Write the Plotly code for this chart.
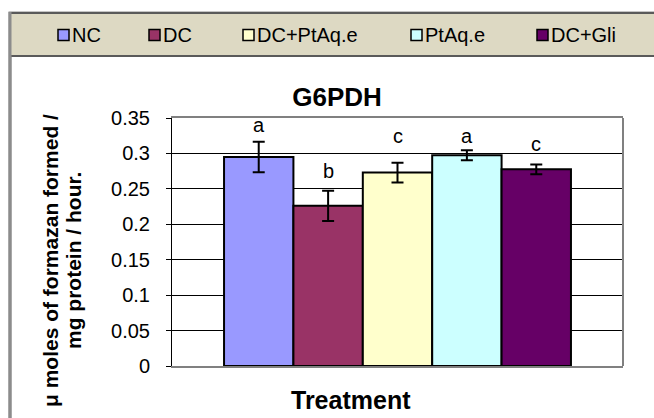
import plotly.graph_objects as go

# ---- data ----
groups = ["NC", "DC", "DC+PtAq.e", "PtAq.e", "DC+Gli"]
means = [0.295, 0.226, 0.273, 0.2975, 0.2775]
errors = [0.0215, 0.0215, 0.014, 0.007, 0.007]
sig_letters = ["a", "b", "c", "a", "c"]
y_tick_values = [0, 0.05, 0.1, 0.15, 0.2, 0.25, 0.3, 0.35]
y_tick_labels = ["0", "0.05", "0.1", "0.15", "0.2", "0.25", "0.3", "0.35"]
chart_title = "G6PDH"
x_title = "Treatment"
y_title_lines = ["\u03bc moles of formazan formed /", "mg protein / hour."]

# ---- styles / layout ----
colors = ["#9999FF", "#993366", "#FFFFCC", "#CCFFFF", "#660066"]
letter_shift_px = [17, 20, 27, 14, 20]
legend_sq_px = [58, 149, 243, 411, 537]
FONT = "Liberation Sans, Arial, sans-serif"
W, H = 654, 418
L, R, T, B = 172, 31, 118, 52
PW, PH = W - L - R, H - T - B


def px_x(px):
    return (px - L) / PW


def px_y(py):
    return (H - B - py) / PH


fig = go.Figure()
for i, g in enumerate(groups):
    fig.add_trace(go.Bar(
        x=[g], y=[means[i]], name=g, width=1,
        marker=dict(color=colors[i], line=dict(color="black", width=2)),
        error_y=dict(type="data", array=[errors[i]], visible=True,
                     color="black", thickness=2, width=6),
        showlegend=False,
    ))

annotations = []
for i, g in enumerate(groups):
    annotations.append(dict(
        x=g, y=means[i] + errors[i], xref="x", yref="y",
        text=sig_letters[i], showarrow=False, yanchor="middle",
        yshift=letter_shift_px[i], font=dict(family=FONT, size=20, color="black"),
    ))

# axis titles
annotations.append(dict(
    x=px_x(351), y=px_y(400), xref="paper", yref="paper", text="<b>" + x_title + "</b>",
    showarrow=False, xanchor="center", yanchor="middle",
    font=dict(family=FONT, size=25, color="black"),
))
for k, (line, cx) in enumerate(zip(y_title_lines, [50, 73])):
    annotations.append(dict(
        x=px_x(cx), y=px_y(261), xref="paper", yref="paper", text="<b>" + line + "</b>",
        showarrow=False, xanchor="center", yanchor="middle", textangle=-90,
        font=dict(family=FONT, size=21, color="black"),
    ))

shapes = []
# chart area border
shapes.append(dict(type="rect", xref="paper", yref="paper",
                   x0=px_x(10), x1=px_x(720), y0=px_y(13), y1=px_y(470),
                   line=dict(color="#8C8C8C", width=3), fillcolor="rgba(0,0,0,0)", layer="below"))
# legend box
shapes.append(dict(type="rect", xref="paper", yref="paper",
                   x0=px_x(10), x1=px_x(720), y0=px_y(13), y1=px_y(56),
                   line=dict(color="#5A5A5A", width=2), fillcolor="#DDD9C3", layer="below"))
shapes.append(dict(type="line", xref="paper", yref="paper",
                   x0=px_x(10), x1=px_x(10), y0=px_y(12), y1=px_y(470),
                   line=dict(color="#8C8C8C", width=3), layer="below"))
for i, g in enumerate(groups):
    x0 = legend_sq_px[i]
    shapes.append(dict(type="rect", xref="paper", yref="paper",
                       x0=px_x(x0), x1=px_x(x0 + 11), y0=px_y(29.5), y1=px_y(40.5),
                       line=dict(color="black", width=1.5), fillcolor=colors[i]))
    annotations.append(dict(
        x=px_x(x0 + 12), y=px_y(35), xref="paper", yref="paper", text=g,
        showarrow=False, xanchor="left", yanchor="middle",
        font=dict(family=FONT, size=20, color="black"),
    ))
# right border of plot area
shapes.append(dict(type="line", xref="paper", yref="paper", x0=1, x1=1, y0=0, y1=1,
                   line=dict(color="#808080", width=2)))

fig.update_layout(
    template="none",
    width=W, height=H,
    margin=dict(l=L, r=R, t=T, b=B, autoexpand=False),
    paper_bgcolor="white", plot_bgcolor="white",
    barmode="overlay",
    showlegend=False,
    title=dict(text="<b>" + chart_title + "</b>", xref="container", yref="container",
               x=337 / W, y=1 - 96.5 / H, xanchor="center", yanchor="middle",
               font=dict(family=FONT, size=26, color="black")),
    xaxis=dict(range=[-1.25, 5.25], showticklabels=False, ticks="", showgrid=False,
               showline=True, linecolor="#808080", linewidth=2, mirror=True,
               zeroline=False, automargin=False, fixedrange=True),
    yaxis=dict(range=[0, 0.35], tickvals=y_tick_values, ticktext=y_tick_labels,
               showgrid=True, gridcolor="black", gridwidth=1,
               showline=True, linecolor="black", linewidth=1,
               ticks="outside", ticklen=5, tickcolor="black", tickwidth=1,
               ticklabelstandoff=12, zeroline=False, automargin=False,
               tickfont=dict(family=FONT, size=20, color="black")),
    shapes=shapes,
    annotations=annotations,
)

fig.write_html("out.html")
